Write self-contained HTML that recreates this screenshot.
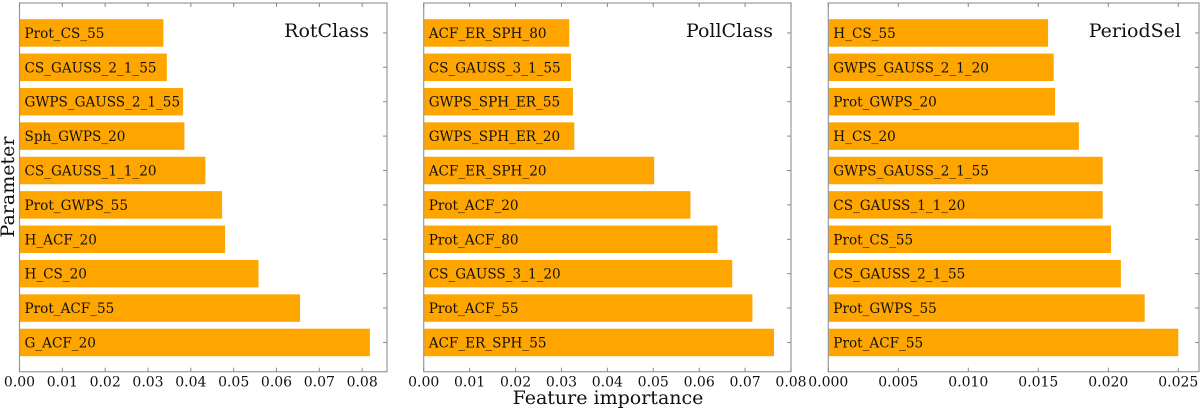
<!DOCTYPE html>
<html><head><meta charset="utf-8"><style>
body{margin:0;background:#fff;width:1200px;height:408px;overflow:hidden}
svg text{font-family:"DejaVu Serif","Liberation Serif",serif;fill:#111}
</style></head><body>
<svg id="c" width="1200" height="408"></svg>
<script>
const p1Labels=["G_ACF_20","Prot_ACF_55","H_CS_20","H_ACF_20","Prot_GWPS_55","CS_GAUSS_1_1_20","Sph_GWPS_20","GWPS_GAUSS_2_1_55","CS_GAUSS_2_1_55","Prot_CS_55"];
const p1Values=[0.0818,0.0655,0.0558,0.0480,0.0473,0.0434,0.0385,0.0382,0.0344,0.0336];
const p2Labels=["ACF_ER_SPH_55","Prot_ACF_55","CS_GAUSS_3_1_20","Prot_ACF_80","Prot_ACF_20","ACF_ER_SPH_20","GWPS_SPH_ER_20","GWPS_SPH_ER_55","CS_GAUSS_3_1_55","ACF_ER_SPH_80"];
const p2Values=[0.0763,0.0716,0.0672,0.0640,0.0581,0.0502,0.0328,0.0325,0.0321,0.0317];
const p3Labels=["Prot_ACF_55","Prot_GWPS_55","CS_GAUSS_2_1_55","Prot_CS_55","CS_GAUSS_1_1_20","GWPS_GAUSS_2_1_55","H_CS_20","Prot_GWPS_20","GWPS_GAUSS_2_1_20","H_CS_55"];
const p3Values=[0.0250,0.0226,0.0209,0.0202,0.0196,0.0196,0.0179,0.0162,0.0161,0.0157];
const p1Ticks=[0,0.01,0.02,0.03,0.04,0.05,0.06,0.07,0.08];
const p2Ticks=[0,0.01,0.02,0.03,0.04,0.05,0.06,0.07,0.08];
const p3Ticks=[0,0.005,0.01,0.015,0.02,0.025];
const NS="http://www.w3.org/2000/svg";
const svg=document.getElementById('c');
function mk(tag,attrs,parent){const e=document.createElementNS(NS,tag);for(const k in attrs)e.setAttribute(k,attrs[k]);(parent||svg).appendChild(e);return e;}
const TOP=3,BOT=371.7;
function panel(id,title,left,right,xmax,labels,values,ticks,dec){
  const g=mk('g',{});
  
  
  const xs=v=>left+(v/xmax)*(right-left);
  const n=labels.length;
  const ylo=-0.85, yhi=n-1+0.87;
  const ys=i=>BOT-(i-ylo)/(yhi-ylo)*(BOT-TOP);
  const bh=0.8*(BOT-TOP)/(yhi-ylo);
  for(let i=0;i<n;i++){
    const r=mk('rect',{x:left,y:ys(i)-bh/2,width:xs(values[i])-left,height:bh,fill:'#ffa500'},g);
    
    
    const t=mk('text',{x:left+5,y:ys(i)+5,'font-size':'13.6'},g);
    t.textContent=labels[i];
    
    
    mk('line',{x1:right,x2:right-4,y1:ys(i),y2:ys(i),stroke:'#888','stroke-width':1},g);
  }
  const fr=mk('rect',{x:left,y:TOP,width:right-left,height:BOT-TOP,fill:'none',stroke:'#999','stroke-width':1.2},g);
  
  
  ticks.forEach(v=>{
    const x=xs(v);
    mk('line',{x1:x,x2:x,y1:BOT,y2:BOT-4,stroke:'#888'},g);
    mk('line',{x1:x,x2:x,y1:TOP,y2:TOP+4,stroke:'#888'},g);
    const t=mk('text',{x:x,y:BOT+15,'font-size':'14','text-anchor':'middle'},g);
    t.textContent=v.toFixed(dec);
    
    
  });
  const tt=mk('text',{x:right-18,y:37,'font-size':'19','text-anchor':'end'},g);
  tt.textContent=title;
  
  
}
panel('rotclass','RotClass',19.5,387,0.0858,p1Labels,p1Values,p1Ticks,2);
panel('pollclass','PollClass',423.7,791,0.08,p2Labels,p2Values,p2Ticks,2);
panel('periodsel','PeriodSel',828.3,1199,0.02648,p3Labels,p3Values,p3Ticks,3);
const yl=mk('text',{x:0,y:0,'font-size':'19','text-anchor':'middle',transform:'translate(14,187) rotate(-90)'});
yl.textContent='Parameter';


const xl=mk('text',{x:608,y:404,'font-size':'19','text-anchor':'middle'});
xl.textContent='Feature importance';


</script>
</body></html>
